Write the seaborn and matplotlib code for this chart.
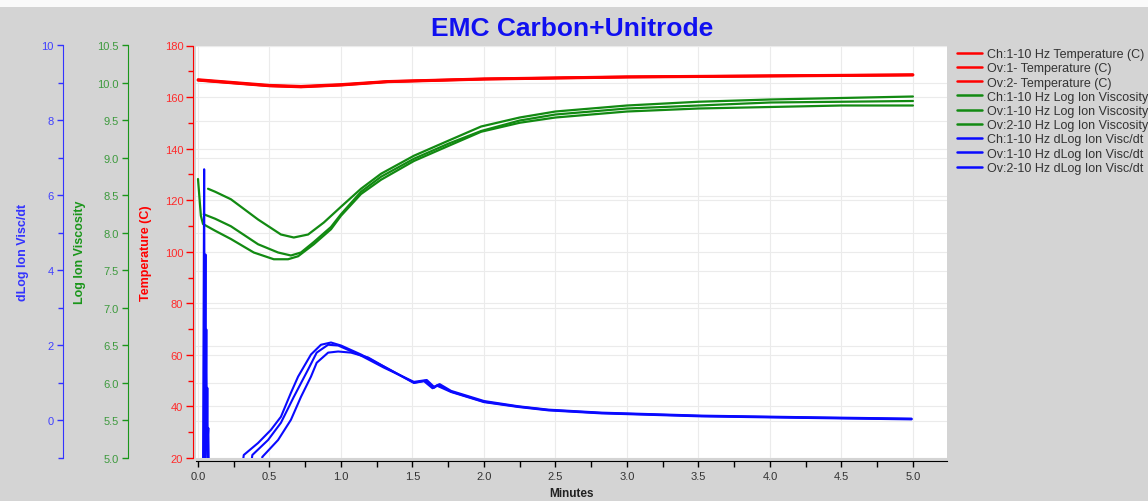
import matplotlib
matplotlib.use('Agg')
import seaborn as sns
from matplotlib import pyplot as plt
from matplotlib.lines import Line2D
from matplotlib.patches import Rectangle
from matplotlib.ticker import MultipleLocator, FormatStrFormatter

# temperature traces (C)
temp_min = [0.0, 0.25, 0.5, 0.72, 1.0, 1.33, 2.0, 3.0, 4.0, 5.0]
temp_ch = [166.8, 165.7, 164.6, 164.2, 164.9, 166.1, 167.1, 167.9, 168.3, 168.7]
temp_ov1 = [166.5, 165.4, 164.3, 163.9, 164.6, 165.9, 166.9, 167.7, 168.1, 168.5]
temp_ov2 = [166.6, 165.5, 164.4, 164.0, 164.7, 166.0, 167.0, 167.8, 168.2, 168.6]

# log ion viscosity traces
visc_ch_min = [0.0, 0.02, 0.035, 0.12, 0.23, 0.39, 0.53, 0.63, 0.70, 0.81, 0.93, 1.0, 1.14, 1.28,
               1.51, 1.75, 1.98, 2.25, 2.5, 3.0, 3.5, 4.0, 4.5, 5.0]
visc_ch = [8.72, 8.23, 8.12, 8.03, 7.92, 7.74, 7.65, 7.65, 7.69, 7.85, 8.05, 8.23, 8.52, 8.71,
           8.96, 9.16, 9.35, 9.47, 9.54, 9.62, 9.66, 9.68, 9.70, 9.70]
visc_ov1_min = [0.04, 0.12, 0.23, 0.42, 0.56, 0.65, 0.72, 0.81, 0.93, 1.0, 1.14, 1.28, 1.51, 1.75,
                1.98, 2.25, 2.5, 3.0, 3.5, 4.0, 4.5, 5.0]
visc_ov1 = [8.25, 8.19, 8.09, 7.85, 7.74, 7.70, 7.74, 7.88, 8.08, 8.25, 8.55, 8.75, 8.99, 9.19,
            9.36, 9.50, 9.58, 9.66, 9.70, 9.74, 9.75, 9.76]
visc_ov2_min = [0.07, 0.12, 0.23, 0.42, 0.58, 0.67, 0.77, 0.88, 1.0, 1.14, 1.28, 1.51, 1.75, 1.98,
                2.25, 2.5, 3.0, 3.5, 4.0, 4.5, 5.0]
visc_ov2 = [8.59, 8.55, 8.45, 8.18, 7.98, 7.94, 7.98, 8.14, 8.35, 8.59, 8.79, 9.03, 9.23, 9.42,
            9.54, 9.62, 9.70, 9.75, 9.78, 9.80, 9.82]

# dLog ion visc/dt traces (values below -1 are off the chart)
dvisc_ch_min = [0.0, 0.035, 0.043, 0.048, 0.3, 0.32, 0.42, 0.51, 0.58, 0.65, 0.70, 0.79, 0.86, 0.93,
                1.0, 1.14, 1.30, 1.51, 1.59, 1.65, 1.68, 1.77, 2.0, 2.24, 2.45, 2.82, 3.52, 4.22, 4.99]
dvisc_ch = [-1.5, -1.5, 6.7, -1.5, -1.5, -0.92, -0.60, -0.25, 0.10, 0.74, 1.17, 1.76, 2.02, 2.08,
            2.0, 1.76, 1.44, 1.01, 1.06, 0.87, 0.95, 0.77, 0.50, 0.37, 0.28, 0.20, 0.12, 0.08, 0.04]
dvisc_ov1_min = [0.0, 0.045, 0.052, 0.056, 0.060, 0.064, 0.07, 0.36, 0.38, 0.49, 0.58, 0.67, 0.77,
                 0.83, 0.91, 0.98, 1.14, 1.30, 1.51, 1.60, 1.65, 1.69, 1.77, 2.0, 2.24, 2.45, 2.82,
                 3.52, 4.22, 4.99]
dvisc_ov1 = [-1.5, -1.5, 4.43, -0.6, -0.2, -0.9, -1.5, -1.5, -0.92, -0.52, -0.06, 0.63, 1.36,
             1.81, 2.02, 2.0, 1.73, 1.41, 1.03, 1.08, 0.90, 0.97, 0.79, 0.52, 0.38, 0.29, 0.21,
             0.13, 0.09, 0.05]
dvisc_ov2_min = [0.0, 0.05, 0.058, 0.062, 0.065, 0.068, 0.072, 0.076, 0.43, 0.45, 0.56, 0.65, 0.72,
                 0.79, 0.83, 0.91, 0.98, 1.07, 1.19, 1.30, 1.51, 1.58, 1.64, 1.67, 1.77, 2.0, 2.24,
                 2.45, 2.82, 3.52, 4.22, 4.99]
dvisc_ov2 = [-1.5, -1.5, 2.43, -0.3, 0.87, -0.5, -0.2, -1.5, -1.5, -0.97, -0.52, 0.02, 0.63,
             1.17, 1.54, 1.81, 1.84, 1.81, 1.68, 1.44, 1.00, 1.05, 0.86, 0.93, 0.76, 0.49, 0.36,
             0.27, 0.19, 0.11, 0.07, 0.03]

legend_labels = ['Ch:1-10 Hz Temperature (C)', 'Ov:1- Temperature (C)', 'Ov:2- Temperature (C)',
                 'Ch:1-10 Hz Log Ion Viscosity', 'Ov:1-10 Hz Log Ion Viscosity',
                 'Ov:2-10 Hz Log Ion Viscosity', 'Ch:1-10 Hz dLog Ion Visc/dt',
                 'Ov:1-10 Hz dLog Ion Visc/dt', 'Ov:2-10 Hz dLog Ion Visc/dt']

RED, GREEN, BLUE = '#ff0000', '#128a12', '#0a0aff'
BG = '#d4d4d4'

sns.set_style('white')
plt.rcParams['font.family'] = ['Liberation Sans', 'DejaVu Sans']

fig = plt.figure(figsize=(11.48, 5.02), dpi=100, facecolor=BG)
fig.patches.append(Rectangle((0, 1 - 8 / 502), 1, 8 / 502, transform=fig.transFigure,
                             facecolor='#fafafa', edgecolor='none'))
pos = [196 / 1148, 1 - 459 / 502, 751 / 1148, 412.5 / 502]

# background axes only holds the white area and the grid
ax_grid = fig.add_axes(pos, facecolor='white')
ax_grid.set_ylim(5, 10.5)
ax_grid.yaxis.set_major_locator(MultipleLocator(0.5))
ax_grid.grid(True, color='#ebebeb', lw=0.8)
ax_grid.tick_params(length=0, labelleft=False, labelbottom=False)
for s in ax_grid.spines.values():
    s.set_visible(False)

# temperature axis
ax_t = fig.add_axes(pos, sharex=ax_grid, facecolor='none')
ax_t.set_axisbelow(True)
for ys, c in [(temp_ov1, RED), (temp_ov2, RED), (temp_ch, RED)]:
    sns.lineplot(x=temp_min, y=ys, ax=ax_t, color=c, lw=1.9, sort=False, estimator=None)
ax_t.set_ylim(20, 180)
ax_t.yaxis.set_major_locator(MultipleLocator(20))
ax_t.yaxis.set_minor_locator(MultipleLocator(10))
ax_t.grid(True, axis='y', color='#ebebeb', lw=0.8)
ax_t.xaxis.set_major_locator(MultipleLocator(0.5))
ax_t.xaxis.set_minor_locator(MultipleLocator(0.25))
ax_t.xaxis.set_major_formatter(FormatStrFormatter('%.1f'))
for side in ['top', 'right']:
    ax_t.spines[side].set_visible(False)
ax_t.spines['left'].set_position(('outward', 2.2))
ax_t.spines['left'].set_color(RED)
ax_t.spines['bottom'].set_position(('outward', 2.2))
ax_t.spines['bottom'].set_color('black')
ax_t.tick_params(axis='y', which='major', direction='out', length=5, width=1, color=RED,
                 labelcolor='#ff2a2a', labelsize=8, pad=2, left=True)
ax_t.tick_params(axis='y', which='minor', direction='out', length=3.5, width=1, color=RED, left=True)
ax_t.tick_params(axis='x', which='both', direction='out', length=4.5, width=1, color='black',
                 labelcolor='#333333', labelsize=8, pad=3, bottom=True)
ax_t.set_ylabel('Temperature (C)', color=RED, fontweight='bold', fontsize=9, labelpad=9)
ax_t.set_xlabel('Minutes', color='#222222', fontweight='bold', fontsize=8.5, labelpad=4)

# log ion viscosity axis
ax_g = ax_t.twinx()
for xs, ys in [(visc_ch_min, visc_ch), (visc_ov1_min, visc_ov1), (visc_ov2_min, visc_ov2)]:
    sns.lineplot(x=xs, y=ys, ax=ax_g, color=GREEN, lw=1.6, sort=False, estimator=None)
ax_g.set_ylim(5, 10.5)
ax_g.yaxis.set_major_locator(MultipleLocator(0.5))
ax_g.yaxis.set_major_formatter(FormatStrFormatter('%.1f'))

# dLog ion visc/dt axis
ax_b = ax_t.twinx()
for xs, ys in [(dvisc_ch_min, dvisc_ch), (dvisc_ov1_min, dvisc_ov1), (dvisc_ov2_min, dvisc_ov2)]:
    sns.lineplot(x=xs, y=ys, ax=ax_b, color=BLUE, lw=1.5, sort=False, estimator=None)
ax_b.set_ylim(-1, 10)
ax_b.yaxis.set_major_locator(MultipleLocator(2))
ax_b.yaxis.set_minor_locator(MultipleLocator(1))

for ax, c, lc, off, lab, pad in [(ax_g, '#1a961a', '#3d9a3d', 49, 'Log Ion Viscosity', 8),
                                 (ax_b, '#3333ff', '#4040ff', 95.8, 'dLog Ion Visc/dt', 9)]:
    for side in ['top', 'right', 'bottom']:
        ax.spines[side].set_visible(False)
    ax.spines['left'].set_visible(True)
    ax.spines['left'].set_position(('outward', off))
    ax.spines['left'].set_color(c)
    ax.yaxis.set_ticks_position('left')
    ax.yaxis.set_label_position('left')
    ax.tick_params(axis='y', which='major', direction='out', length=4.5, width=1, color=c,
                   labelcolor=lc, labelsize=8, pad=2)
    ax.tick_params(axis='y', which='minor', direction='out', length=3.5, width=1, color=c)
    ax.set_ylabel(lab, color=c, fontweight='bold', fontsize=9, labelpad=pad)
ax_t.set_xlim(-0.014, 5.238)

fig.text(572 / 1148, 1 - 29 / 502, 'EMC Carbon+Unitrode', ha='center', va='center',
         fontsize=19, fontweight='bold', color='#1010f0')

handles = [Line2D([], [], color=c, lw=1.8) for c in [RED] * 3 + [GREEN] * 3 + [BLUE] * 3]
fig.legend(handles, legend_labels, loc='upper left', bbox_to_anchor=(957 / 1148, 1 - 49 / 502),
           frameon=False, fontsize=9, handlelength=2.0, handletextpad=0.4, labelspacing=0.18,
           borderaxespad=0, borderpad=0, labelcolor='#333333')

fig.savefig('out.png', dpi=100, facecolor=BG)
